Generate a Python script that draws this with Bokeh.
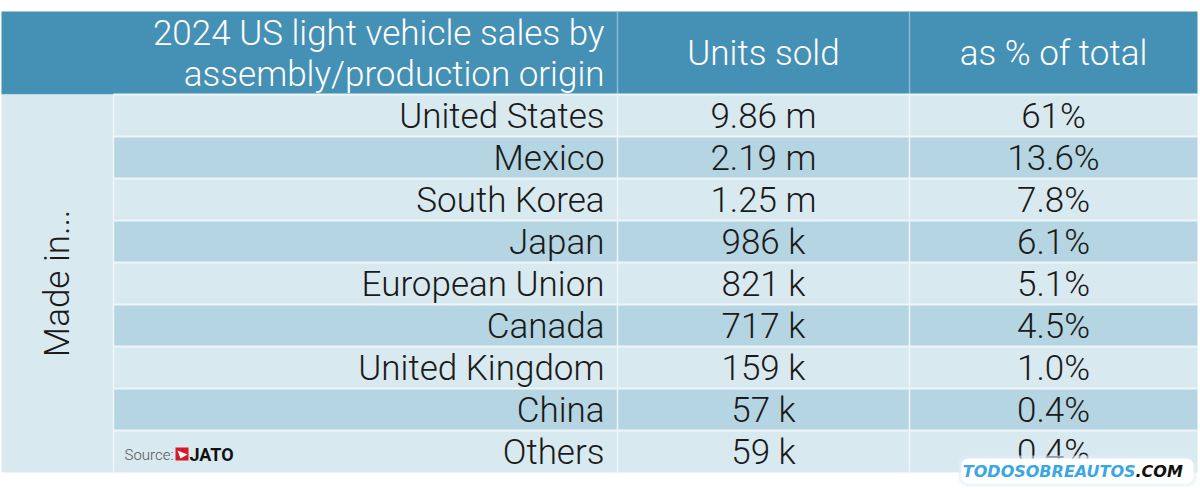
from bokeh.plotting import figure
from bokeh.models import Range1d, ColumnDataSource
from bokeh.core.properties import value
from bokeh.embed import file_html
from bokeh.resources import INLINE

# ---- data ----
countries = ["United States", "Mexico", "South Korea", "Japan", "European Union",
             "Canada", "United Kingdom", "China", "Others"]
units_sold = [9.86e6, 2.19e6, 1.25e6, 986e3, 821e3, 717e3, 159e3, 57e3, 59e3]
pct_total = [61, 13.6, 7.8, 6.1, 5.1, 4.5, 1.0, 0.4, 0.4]
header_title = ["2024 US light vehicle sales by", "assembly/production origin"]
header_cols = ["Units sold", "as % of total"]
side_label = "Made in..."

def fmt_units(v):
    return f"{v/1e6:.2f} m" if v >= 1e6 else f"{v/1e3:.0f} k"

def fmt_pct(v):
    return f"{v:.0f}%" if v >= 20 else f"{v:.1f}%"

# ---- layout (pixel coordinates) ----
W, H = 1200, 494
FONT = value("Roboto Light")
FS = "35px"
HEAD_BG = "#4590b5"
LIGHT = "#d8e9f0"
DARK = "#b4d5e1"
LINE = "#eef6f9"

x0, xc1, xc2, xc3, x1 = 1, 113, 617, 909, 1197
ytop, yhead = 11, 94
n = len(countries)
rh = (472 - yhead) / n

p = figure(width=W, height=H, x_range=Range1d(0, W), y_range=Range1d(H, 0),
           output_backend="svg", toolbar_location=None, min_border=0,
           outline_line_color=None, background_fill_color="white",
           border_fill_color="white")
p.axis.visible = False
p.grid.visible = False

# header
p.quad(left=[x0], right=[x1], top=[ytop], bottom=[yhead], fill_color=HEAD_BG, line_color=None)
p.segment(x0=[xc2, xc3], x1=[xc2, xc3], y0=[ytop, ytop], y1=[yhead, yhead],
          line_color="#8cbcd3", line_width=1.5)

# side cell
p.quad(left=[x0], right=[xc1], top=[yhead], bottom=[yhead + n * rh], fill_color=LIGHT, line_color=None)

# rows
tops = [yhead + i * rh for i in range(n)]
bots = [t + rh for t in tops]
fills = [LIGHT if i % 2 == 0 else DARK for i in range(n)]
p.quad(left=[xc1] * n, right=[x1] * n, top=tops, bottom=bots, fill_color=fills, line_color=None)
p.segment(x0=[xc1] * n, x1=[x1] * n, y0=tops, y1=tops, line_color=LINE, line_width=2)
p.segment(x0=[xc1, xc2, xc3], x1=[xc1, xc2, xc3], y0=[yhead] * 3, y1=[yhead + n * rh] * 3,
          line_color=LINE, line_width=1.5)

# header texts
p.text(x=[604, 604], y=[33, 74], text=header_title, text_font=FONT, text_font_size=FS,
       text_color="white", text_align="right", text_baseline="middle")
p.text(x=[(xc2 + xc3) / 2, (xc3 + x1) / 2], y=[53, 53], text=header_cols, text_font=FONT,
       text_font_size=FS, text_color="white", text_align="center", text_baseline="middle")

# body texts
mids = [t + rh / 2 + 1 for t in tops]
src = ColumnDataSource(dict(y=mids, c=countries,
                            u=[fmt_units(v) for v in units_sold],
                            pc=[fmt_pct(v) for v in pct_total]))
p.text(x=604, y="y", text="c", source=src, text_font=FONT, text_font_size=FS,
       text_color="#1a1a1a", text_align="right", text_baseline="middle")
p.text(x=(xc2 + xc3) / 2, y="y", text="u", source=src, text_font=FONT, text_font_size=FS,
       text_color="#1a1a1a", text_align="center", text_baseline="middle")
p.text(x=(xc3 + x1) / 2, y="y", text="pc", source=src, text_font=FONT, text_font_size=FS,
       text_color="#1a1a1a", text_align="center", text_baseline="middle")

# side label
p.text(x=[57], y=[283], text=[side_label], text_font=FONT, text_font_size=FS,
       text_color="#1a1a1a", text_align="center", text_baseline="middle", angle=1.5708)

# source
p.text(x=[124], y=[454], text=["Source:"], text_font=FONT, text_font_size="15px",
       text_color="#555555", text_align="left", text_baseline="middle")
p.quad(left=[175], right=[188], top=[447], bottom=[460], fill_color="#d7182a", line_color=None)
p.patch(x=[177, 187, 180], y=[450, 454, 458], fill_color="white", line_color=None)
p.text(x=[189], y=[454], text=["JATO"], text_font=value("Roboto"), text_font_style="bold",
       text_font_size="18px", text_color="#111111", text_align="left", text_baseline="middle")

# watermark
p.quad(left=[958], right=[1196], top=[455], bottom=[486], fill_color="#e3f0f8", fill_alpha=0.6,
       line_color=None, border_radius=9)
p.quad(left=[961], right=[1193], top=[458], bottom=[483], fill_color="white", line_color=None,
       border_radius=7)
p.text(x=[1135], y=[471], text=["TODOSOBREAUTOS"], text_font=value("DejaVu Sans"),
       text_font_style="bold italic", text_font_size="16px", text_color="#3aa6e3",
       text_align="right", text_baseline="middle")
p.text(x=[1135], y=[471], text=[".COM"], text_font=value("DejaVu Sans"),
       text_font_style="bold italic", text_font_size="16px", text_color="#111111",
       text_align="left", text_baseline="middle")

open("out.html", "w").write(file_html(p, INLINE))
